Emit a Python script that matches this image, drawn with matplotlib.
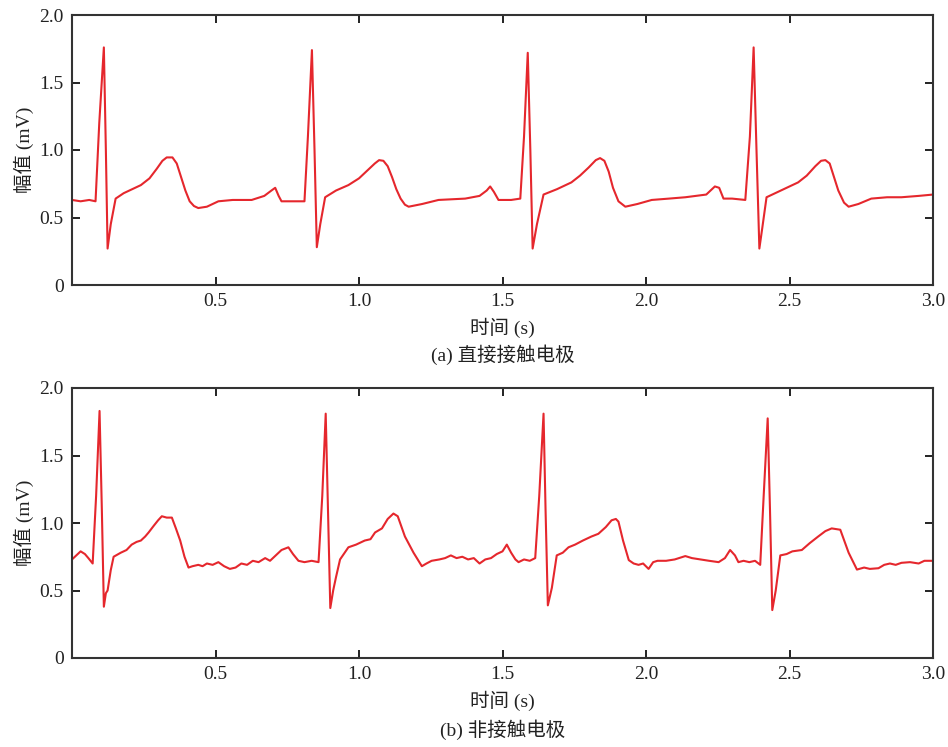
import matplotlib
matplotlib.use("Agg")
import matplotlib.pyplot as plt

plt.rcParams['font.family'] = ['Liberation Serif', 'Noto Sans CJK SC', 'DejaVu Sans']

# (a) direct contact electrode
t_a = [0.0, 0.03, 0.06, 0.082, 0.095, 0.111, 0.118, 0.124, 0.135, 0.152, 0.18, 0.21, 0.24, 0.27,
       0.295, 0.315, 0.33, 0.35, 0.365, 0.38, 0.395, 0.41, 0.425, 0.44, 0.47, 0.51, 0.56, 0.626,
       0.67, 0.695, 0.708, 0.72, 0.73, 0.77, 0.81, 0.822, 0.836, 0.845, 0.853, 0.865, 0.882, 0.92,
       0.963, 1.0, 1.03, 1.055, 1.07, 1.085, 1.1, 1.115, 1.13, 1.145, 1.16, 1.173, 1.22, 1.277,
       1.37, 1.42, 1.445, 1.457, 1.47, 1.486, 1.53, 1.562, 1.575, 1.588, 1.597, 1.605, 1.62, 1.643,
       1.69, 1.74, 1.77, 1.80, 1.825, 1.84, 1.855, 1.87, 1.885, 1.904, 1.928, 1.97, 2.02, 2.08,
       2.137, 2.21, 2.23, 2.24, 2.255, 2.27, 2.3, 2.346, 2.362, 2.375, 2.385, 2.395, 2.405, 2.42,
       2.47, 2.53, 2.56, 2.59, 2.61, 2.625, 2.64, 2.655, 2.67, 2.69, 2.706, 2.74, 2.785, 2.84,
       2.89, 2.95, 3.0]
v_a = [0.63, 0.62, 0.63, 0.62, 1.2, 1.76, 1.0, 0.27, 0.45, 0.64, 0.68, 0.71, 0.74, 0.79,
       0.86, 0.92, 0.945, 0.945, 0.90, 0.80, 0.70, 0.62, 0.585, 0.57, 0.58, 0.62, 0.63, 0.63,
       0.66, 0.70, 0.72, 0.66, 0.62, 0.62, 0.62, 1.1, 1.74, 1.0, 0.28, 0.45, 0.65, 0.70,
       0.74, 0.79, 0.85, 0.90, 0.925, 0.92, 0.88, 0.80, 0.71, 0.64, 0.595, 0.58, 0.60, 0.63,
       0.64, 0.66, 0.70, 0.73, 0.69, 0.63, 0.63, 0.64, 1.1, 1.72, 1.0, 0.27, 0.45, 0.67,
       0.71, 0.76, 0.81, 0.87, 0.925, 0.94, 0.92, 0.84, 0.72, 0.62, 0.58, 0.60, 0.63, 0.64,
       0.65, 0.67, 0.71, 0.73, 0.72, 0.64, 0.64, 0.63, 1.1, 1.76, 1.0, 0.27, 0.42, 0.65,
       0.70, 0.76, 0.81, 0.88, 0.92, 0.925, 0.90, 0.80, 0.70, 0.61, 0.58, 0.60, 0.64, 0.65,
       0.65, 0.66, 0.67]

# (b) non-contact electrode
t_b = [0.0, 0.015, 0.03, 0.045, 0.057, 0.072, 0.084, 0.096, 0.104, 0.111, 0.118, 0.124, 0.135, 0.145,
       0.17, 0.19, 0.208, 0.225, 0.24, 0.255, 0.267, 0.285, 0.3, 0.313, 0.33, 0.348, 0.362, 0.377,
       0.392, 0.406, 0.42, 0.44, 0.455, 0.47, 0.49, 0.51, 0.53, 0.55, 0.57, 0.59, 0.61, 0.63, 0.65,
       0.673, 0.69, 0.71, 0.73, 0.754, 0.77, 0.789, 0.81, 0.835, 0.859, 0.872, 0.884, 0.892, 0.9,
       0.91, 0.92, 0.934, 0.95, 0.963, 0.99, 1.02, 1.04, 1.056, 1.08, 1.1, 1.12, 1.135, 1.16, 1.19,
       1.219, 1.235, 1.253, 1.28, 1.3, 1.32, 1.34, 1.36, 1.38, 1.4, 1.42, 1.44, 1.46, 1.48, 1.5,
       1.515, 1.53, 1.545, 1.556, 1.575, 1.595, 1.614, 1.628, 1.643, 1.65, 1.658, 1.672, 1.689,
       1.71, 1.73, 1.753, 1.78, 1.81, 1.834, 1.86, 1.88, 1.895, 1.904, 1.92, 1.94, 1.957, 1.974,
       1.99, 2.009, 2.025, 2.04, 2.07, 2.1, 2.137, 2.16, 2.19, 2.22, 2.253, 2.275, 2.293, 2.31,
       2.322, 2.34, 2.36, 2.38, 2.398, 2.41, 2.424, 2.432, 2.44, 2.452, 2.468, 2.49, 2.51, 2.543,
       2.57, 2.6, 2.625, 2.647, 2.677, 2.706, 2.735, 2.76, 2.78, 2.81, 2.83, 2.85, 2.87, 2.89,
       2.92, 2.95, 2.97, 3.0]
v_b = [0.73, 0.76, 0.79, 0.77, 0.74, 0.70, 1.2, 1.83, 1.1, 0.38, 0.48, 0.50, 0.65, 0.75,
       0.78, 0.80, 0.84, 0.86, 0.87, 0.90, 0.93, 0.98, 1.02, 1.05, 1.04, 1.04, 0.96, 0.87,
       0.75, 0.67, 0.68, 0.69, 0.68, 0.70, 0.69, 0.71, 0.68, 0.66, 0.67, 0.70, 0.69, 0.72, 0.71,
       0.74, 0.72, 0.76, 0.80, 0.82, 0.77, 0.72, 0.71, 0.72, 0.71, 1.2, 1.81, 1.1, 0.37,
       0.50, 0.60, 0.73, 0.78, 0.82, 0.84, 0.87, 0.88, 0.93, 0.96, 1.03, 1.07, 1.05, 0.90, 0.78,
       0.68, 0.70, 0.72, 0.73, 0.74, 0.76, 0.74, 0.75, 0.73, 0.74, 0.70, 0.73, 0.74, 0.77, 0.79,
       0.84, 0.78, 0.73, 0.71, 0.73, 0.72, 0.74, 1.2, 1.81, 1.1, 0.39, 0.52, 0.76,
       0.78, 0.82, 0.84, 0.87, 0.90, 0.92, 0.97, 1.02, 1.03, 1.01, 0.87, 0.725, 0.70, 0.69,
       0.70, 0.66, 0.71, 0.72, 0.72, 0.73, 0.755, 0.74, 0.73, 0.72, 0.71, 0.74, 0.80, 0.76,
       0.71, 0.72, 0.71, 0.72, 0.69, 1.2, 1.775, 1.1, 0.355, 0.50, 0.76, 0.77, 0.79, 0.80,
       0.85, 0.90, 0.94, 0.96, 0.95, 0.78, 0.655, 0.67, 0.66, 0.665, 0.69, 0.70, 0.69, 0.705,
       0.71, 0.70, 0.72, 0.72]

x_ticks = [0.5, 1.0, 1.5, 2.0, 2.5, 3.0]
x_tick_labels = ["0.5", "1.0", "1.5", "2.0", "2.5", "3.0"]
y_ticks = [0, 0.5, 1.0, 1.5, 2.0]
y_tick_labels = ["0", "0.5", "1.0", "1.5", "2.0"]
xlabel = "时间 (s)"
ylabel = "幅值 (mV)"
captions = ["(a) 直接接触电极", "(b) 非接触电极"]

fig = plt.figure(figsize=(9.48, 7.47), dpi=100)
L, R = 72 / 948, 933 / 948
ax_a = fig.add_axes([L, (747 - 285) / 747, R - L, 270 / 747])
ax_b = fig.add_axes([L, (747 - 658) / 747, R - L, 270 / 747])

line_color = '#e5272d'
for ax, t, v, cap, cap_y in [(ax_a, t_a, v_a, captions[0], (747 - 355) / 747),
                             (ax_b, t_b, v_b, captions[1], (747 - 730) / 747)]:
    ax.plot(t, v, color=line_color, lw=1.5)
    ax.set_xlim(0, 3.0)
    ax.set_ylim(0, 2.0)
    ax.set_xticks(x_ticks)
    ax.set_xticklabels(x_tick_labels)
    ax.set_yticks(y_ticks)
    ax.set_yticklabels(y_tick_labels)
    ax.tick_params(direction='in', length=6, width=1.4, top=True, right=True,
                   labelsize=14, colors='#222222', pad=6)
    for s in ax.spines.values():
        s.set_linewidth(1.5)
        s.set_color('#333333')
    ax.set_xlabel(xlabel, fontsize=14, color='#222222')
    ax.xaxis.set_label_coords(0.5, -0.16)
    ax.xaxis.label.set_va('center')
    ax.set_ylabel(ylabel, fontsize=14, color='#222222')
    ax.yaxis.set_label_coords(-0.056, 0.5)
    ax.yaxis.label.set_va('center')
    fig.text(0.5 * (L + R), cap_y, cap, ha='center', va='center', fontsize=14, color='#222222')

fig.savefig("out.png", dpi=100)
